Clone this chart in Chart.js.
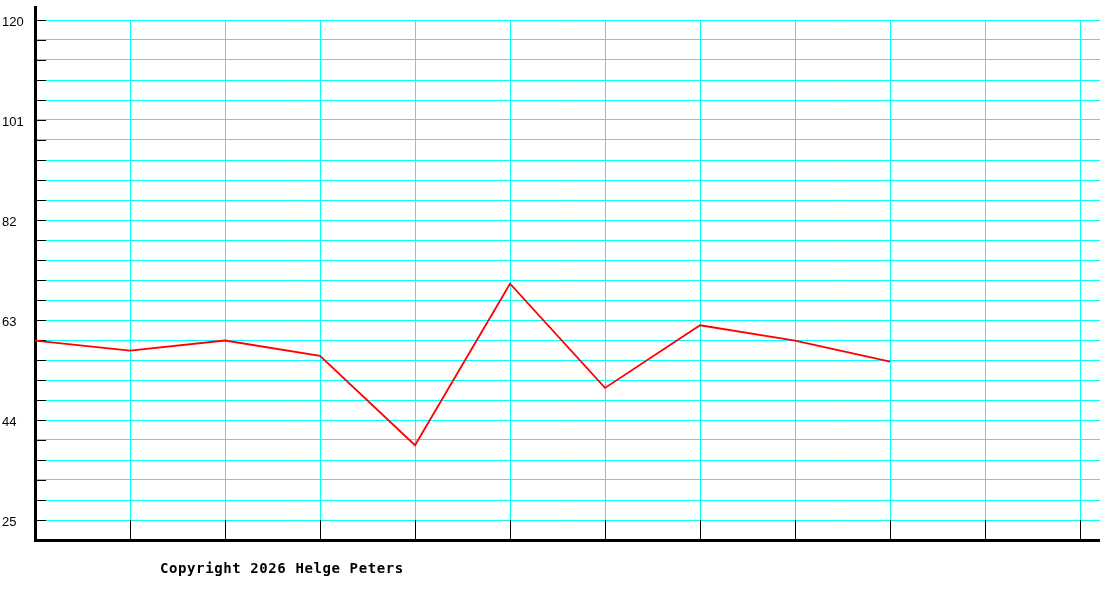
<!DOCTYPE html>
<html>
<head>
<meta charset="utf-8">
<script src="https://cdn.jsdelivr.net/npm/chart.js@4.4.1/dist/chart.umd.min.js"></script>
<style>
    body { margin: 0; background: #fff; }
    #wrap { position: relative; width: 1100px; height: 600px; }
    #copyright {
        position: absolute;
        left: 160px;
        top: 561px;
        font: bold 14px 'DejaVu Sans Mono', monospace;
        line-height: 14px;
        letter-spacing: 0.6px;
        color: #000;
        white-space: nowrap;
    }
</style>
</head>
<body>
<div id="wrap">
    <canvas id="lineChart"></canvas>
    <div id="copyright">Copyright 2026 Helge Peters</div>
</div>
<script>
// x positions on the axis (12 slots, data fills the first 10)
const positions = [0, 1, 2, 3, 4, 5, 6, 7, 8, 9, 10, 11];
const values = [59.1, 57.2, 59.1, 56.2, 39.2, 69.9, 50.1, 62.0, 59.1, 55.1];

// labelled y ticks and the minor step between gridlines
const yLabels = [25, 44, 63, 82, 101, 120];
const yStep = 3.8;
const yMin = 21.2;
const yMax = 122.47;
const xMax = 11.21;

const gridColor = '#00ffff';
const lineColor = '#ff0000';

// vertical gridlines and the small black ticks
const gridPlugin = {
    id: 'gridPlugin',
    beforeDatasetsDraw(chart) {
        const ctx = chart.ctx;
        const x = chart.scales.x;
        const y = chart.scales.y;
        const area = chart.chartArea;
        const top = Math.round(y.getPixelForValue(yLabels[yLabels.length - 1]));
        const low = Math.round(y.getPixelForValue(yLabels[0]));
        ctx.save();
        ctx.lineWidth = 1;
        positions.forEach(p => {
            if (p === 0) return;
            const px = Math.round(x.getPixelForValue(p)) + 0.5;
            ctx.strokeStyle = gridColor;
            ctx.beginPath();
            ctx.moveTo(px, top);
            ctx.lineTo(px, low);
            ctx.stroke();
            ctx.strokeStyle = '#000';
            ctx.beginPath();
            ctx.moveTo(px, low);
            ctx.lineTo(px, area.bottom);
            ctx.stroke();
        });
        ctx.strokeStyle = '#000';
        y.ticks.forEach(t => {
            const py = Math.round(y.getPixelForValue(t.value)) + 0.5;
            ctx.beginPath();
            ctx.moveTo(area.left, py);
            ctx.lineTo(area.left + 11, py);
            ctx.stroke();
        });
        ctx.restore();
    }
};

const isLabel = v => yLabels.some(l => Math.abs(l - v) < 0.01);

new Chart(document.getElementById('lineChart'), {
    type: 'line',
    data: {
        datasets: [{
            data: values.map((v, i) => ({x: positions[i], y: v})),
            borderColor: lineColor,
            borderWidth: 1.8,
            pointRadius: 0,
            fill: false,
            tension: 0
        }]
    },
    options: {
        responsive: true,
        maintainAspectRatio: false,
        animation: false,
        devicePixelRatio: 1,
        layout: {padding: {top: 7, right: 0, left: 2, bottom: 0}},
        plugins: {
            legend: {display: false},
            tooltip: {enabled: false}
        },
        scales: {
            x: {
                type: 'linear',
                min: 0,
                max: xMax,
                grid: {display: false},
                border: {display: true, color: '#000', width: 3},
                ticks: {display: false},
                afterFit: scale => {
                    scale.height = 60;
                    scale.paddingLeft = 0;
                    scale.paddingRight = 0;
                }
            },
            y: {
                type: 'linear',
                min: yMin,
                max: yMax,
                afterBuildTicks: scale => {
                    const ticks = [];
                    for (let k = 0; yMin + k * yStep <= 120.01; k++) {
                        ticks.push({value: Math.round((yMin + k * yStep) * 10) / 10});
                    }
                    scale.ticks = ticks;
                },
                afterFit: scale => {
                    scale.width = 33;
                    scale.paddingTop = 0;
                    scale.paddingBottom = 0;
                },
                grid: {
                    color: gridColor,
                    lineWidth: 1,
                    drawTicks: false
                },
                border: {display: true, color: '#000', width: 3},
                ticks: {
                    padding: 10,
                    labelOffset: 2,
                    crossAlign: 'far',
                    color: '#000',
                    font: {family: "'Liberation Sans', sans-serif", size: 13},
                    callback: v => isLabel(v) ? String(Math.round(v)) : ''
                }
            }
        }
    },
    plugins: [gridPlugin]
});
</script>
</body>
</html>
